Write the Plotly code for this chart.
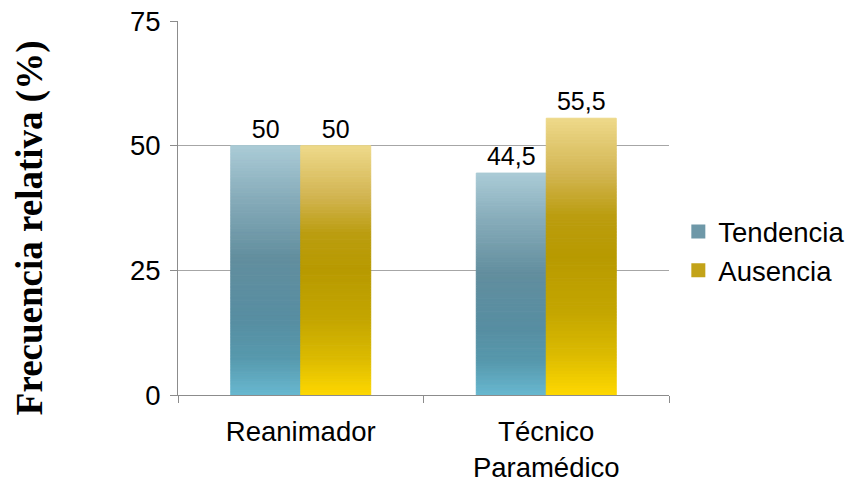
import plotly.graph_objects as go

# Data
categories = ["Reanimador", "Técnico<br>Paramédico"]
series_names = ["Tendencia", "Ausencia"]
tendencia = [50, 44.5]
ausencia = [50, 55.5]
y_title = "Frecuencia relativa (%)"

# Vertical gradient stops for each series (0 = top of bar, 1 = bottom)
gradients = {
    "Tendencia": [(0.0, (170, 203, 214)), (0.2, (136, 173, 187)), (0.45, (98, 142, 158)),
                  (0.7, (87, 142, 162)), (0.85, (87, 153, 173)), (1.0, (104, 184, 208))],
    "Ausencia": [(0.0, (238, 217, 138)), (0.2, (210, 181, 82)), (0.35, (187, 157, 16)),
                 (0.5, (184, 154, 0)), (0.7, (196, 166, 0)), (0.85, (219, 186, 0)),
                 (1.0, (254, 216, 0))],
}
legend_colors = {"Tendencia": "#6e98a8", "Ausencia": "#c3a318"}

N_SLICES = 90


def grad_color(stops, t):
    for (t0, c0), (t1, c1) in zip(stops, stops[1:]):
        if t0 <= t <= t1:
            f = (t - t0) / (t1 - t0) if t1 > t0 else 0
            r, g, b = (round(a + (b_ - a) * f) for a, b_ in zip(c0, c1))
            return f"rgb({r},{g},{b})"
    r, g, b = stops[-1][1]
    return f"rgb({r},{g},{b})"


def fmt(v):
    return f"{v:g}".replace(".", ",")


fig = go.Figure()

for name, values in zip(series_names, [tendencia, ausencia]):
    stops = gradients[name]
    xs, ys, bases, colors, texts = [], [], [], [], []
    for cat, v in zip(categories, values):
        step = v / N_SLICES
        for i in range(N_SLICES):
            xs.append(cat)
            ys.append(step)
            bases.append(i * step)
            # i = 0 is the bottom slice
            t = 1 - (i + 0.5) / N_SLICES
            colors.append(grad_color(stops, t))
            texts.append(fmt(v) if i == N_SLICES - 1 else "")
    fig.add_trace(go.Bar(
        x=xs, y=ys, base=bases, name=name, offsetgroup=name,
        marker=dict(color=colors, line=dict(color=colors, width=1)),
        text=texts, textposition="outside", constraintext="none", cliponaxis=False,
        textfont=dict(family="Liberation Sans, Arial", size=25, color="#000000"),
        showlegend=False, hoverinfo="skip",
    ))
    # legend entry
    fig.add_trace(go.Scatter(
        x=[None], y=[None], mode="markers", name=name,
        marker=dict(symbol="square", size=14, color=legend_colors[name]),
    ))

# Rotated y-axis title
fig.add_annotation(
    text=f"<b>{y_title}</b>", textangle=-90, showarrow=False,
    xref="paper", yref="paper", x=0, y=0.446, xanchor="center", yanchor="middle",
    xshift=-148,
    font=dict(family="Liberation Serif, Times New Roman", size=37, color="#000000"),
)

fig.update_layout(
    width=849, height=486,
    margin=dict(l=178, r=180, t=21, b=91, autoexpand=False),
    paper_bgcolor="white", plot_bgcolor="white",
    barmode="group", bargap=0.43, bargroupgap=0,
    font=dict(family="Liberation Sans, Arial", size=27.5, color="#000000"),
    legend=dict(x=1.019, y=0.385, xanchor="left", yanchor="middle",
                font=dict(size=27.5), itemwidth=30, tracegroupgap=0,
                bgcolor="rgba(0,0,0,0)"),
    xaxis=dict(
        type="category", showline=True, linecolor="#8c8c8c", linewidth=1,
        ticks="outside", tickson="boundaries", ticklen=7, tickcolor="#8c8c8c",
        showgrid=False, tickfont=dict(size=27.5), ticklabelstandoff=12,
    ),
    yaxis=dict(
        range=[0, 75], tickvals=[0, 25, 50, 75], showline=True,
        linecolor="#8c8c8c", linewidth=1, ticks="outside", ticklen=7,
        tickcolor="#8c8c8c", showgrid=True, gridcolor="#a6a6a6", gridwidth=1,
        zeroline=False, tickfont=dict(size=27.5), ticklabelstandoff=4,
    ),
)

fig.write_html("out.html")
